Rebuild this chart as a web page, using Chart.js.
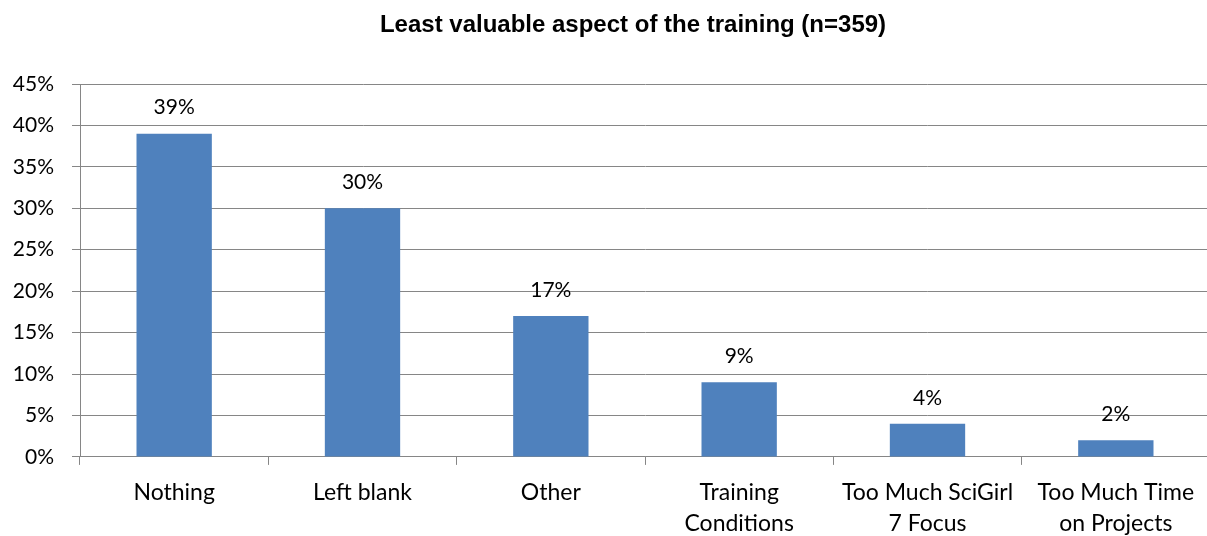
<!DOCTYPE html>
<html lang="en">
<head>
  <meta charset="UTF-8" />
  <title>Least valuable aspect of the training</title>
  <script src="https://cdn.jsdelivr.net/npm/chart.js"></script>
  <style>
    html, body {
      margin: 0;
      padding: 0;
      background: #ffffff;
      overflow: hidden;
    }
    .wrap {
      width: 1214px;
      height: 551px;
    }
  </style>
</head>
<body>
  <div class="wrap">
    <canvas id="chart" width="1214" height="551"></canvas>
  </div>

  <script>
    const chartTitle = 'Least valuable aspect of the training (n=359)';
    const categories = [
      'Nothing',
      'Left blank',
      'Other',
      ['Training', 'Conditions'],
      ['Too Much SciGirl', '7 Focus'],
      ['Too Much Time', 'on Projects']
    ];
    const percents = [39, 30, 17, 9, 4, 2];
    const tickStep = 5;
    const tickMax = 45;

    const labelFont = "'Lato', 'Open Sans', sans-serif";

    // valeurs au-dessus des barres
    const valueLabels = {
      id: 'valueLabels',
      afterDatasetsDraw(chart) {
        const c = chart.ctx;
        const meta = chart.getDatasetMeta(0);
        c.save();
        c.font = '21px ' + labelFont;
        c.fillStyle = '#000';
        c.textAlign = 'center';
        c.textBaseline = 'middle';
        meta.data.forEach((bar, i) => {
          c.fillText(percents[i] + '%', bar.x, bar.y - 26);
        });
        c.restore();
      }
    };

    // titre centre comme dans l'original
    const topTitle = {
      id: 'topTitle',
      afterDraw(chart) {
        const c = chart.ctx;
        c.save();
        c.font = "bold 24px 'Liberation Sans Narrow', 'Arial Narrow', 'Liberation Sans', sans-serif";
        c.fillStyle = '#000';
        c.textAlign = 'center';
        c.textBaseline = 'middle';
        c.fillText(chartTitle, 633, 25);
        c.restore();
      }
    };

    new Chart(document.getElementById('chart').getContext('2d'), {
      type: 'bar',
      data: {
        labels: categories,
        datasets: [{
          data: percents,
          backgroundColor: '#4F81BD',
          borderWidth: 0,
          categoryPercentage: 0.4,
          barPercentage: 1.0
        }]
      },
      plugins: [valueLabels, topTitle],
      options: {
        responsive: false,
        animation: false,
        layout: { padding: { top: 84, left: 0, right: 4, bottom: 0 } },
        plugins: {
          legend: { display: false },
          tooltip: { enabled: false },
          title: { display: false }
        },
        scales: {
          x: {
            offset: true,
            grid: {
              offset: true,
              drawOnChartArea: false,
              drawTicks: true,
              tickLength: 8,
              color: '#868686'
            },
            border: { color: '#868686', width: 1 },
            ticks: {
              color: '#000',
              font: { family: labelFont, size: 23, lineHeight: 1.35 },
              padding: 12,
              maxRotation: 0,
              autoSkip: false
            }
          },
          y: {
            min: 0,
            max: tickMax,
            afterFit(scale) { scale.width = 80; },
            grid: {
              color: '#868686',
              tickLength: 8
            },
            border: { color: '#868686', width: 1 },
            ticks: {
              stepSize: tickStep,
              color: '#000',
              font: { family: labelFont, size: 21 },
              padding: 18,
              callback: v => v + '%'
            }
          }
        }
      }
    });
  </script>
</body>
</html>
